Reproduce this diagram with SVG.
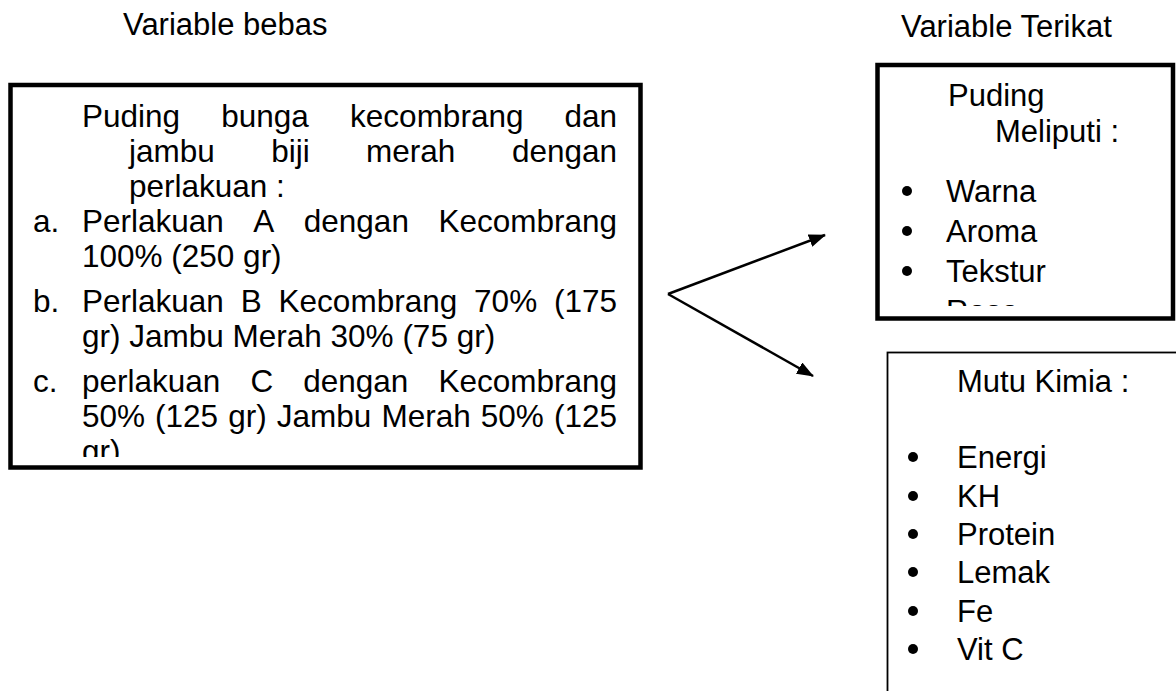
<svg xmlns="http://www.w3.org/2000/svg" width="1176" height="691" viewBox="0 0 1176 691">
<style>
text{font-family:"Liberation Sans",Arial,sans-serif;fill:#000;}
.h{font-size:31px;}
.t{font-size:31.5px;}
.r{font-size:31px;}
.thick{fill:#fff;stroke:#000;stroke-width:4.5;}
.thin{fill:#fff;stroke:#000;stroke-width:1.8;}
.conn{stroke:#000;stroke-width:2.5;fill:none;}
</style>
<defs>
<marker id="ah" viewBox="0 0 17 13" refX="16" refY="6.5" markerWidth="17" markerHeight="13" markerUnits="userSpaceOnUse" orient="auto">
<path d="M0,0 L17,6.5 L0,13 z" fill="#000"/>
</marker>
<clipPath id="clipL"><rect x="13" y="88" width="624" height="369"/></clipPath>
<clipPath id="clipT"><rect x="880" y="68" width="290" height="238"/></clipPath>
</defs>
<rect width="1176" height="691" fill="#fff"/>
<g id="header-bebas"><text class="h" x="123" y="35">Variable bebas</text></g>
<g id="header-terikat"><text class="h" x="901" y="37">Variable Terikat</text></g>
<g id="node-bebas">
<rect class="thick" x="10.5" y="85" width="630" height="382.5"/>
<g clip-path="url(#clipL)">
<text class="t" y="127"><tspan x="82">Puding</tspan><tspan x="221.3">bunga</tspan><tspan x="350.1">kecombrang</tspan><tspan x="564.5">dan</tspan></text>
<text class="t" y="162"><tspan x="129">jambu</tspan><tspan x="271.2">biji</tspan><tspan x="366.1">merah</tspan><tspan x="511.9">dengan</tspan></text>
<text class="t" x="129" y="196.5">perlakuan :</text>
<text class="t" x="33" y="231.5">a.</text>
<text class="t" y="231.5"><tspan x="82">Perlakuan</tspan><tspan x="253.3">A</tspan><tspan x="303.8">dengan</tspan><tspan x="438.4">Kecombrang</tspan></text>
<text class="t" x="82" y="266.5">100% (250 gr)</text>
<text class="t" x="33" y="311.5">b.</text>
<text class="t" y="311.5"><tspan x="82">Perlakuan</tspan><tspan x="240.7">B</tspan><tspan x="278.6">Kecombrang</tspan><tspan x="474.1">70%</tspan><tspan x="554">(175</tspan></text>
<text class="t" x="82" y="346.5">gr) Jambu Merah 30% (75 gr)</text>
<text class="t" x="33" y="391.5">c.</text>
<text class="t" y="391.5"><tspan x="82">perlakuan</tspan><tspan x="250.4">C</tspan><tspan x="303.2">dengan</tspan><tspan x="438.4">Kecombrang</tspan></text>
<text class="t" y="426.5"><tspan x="82">50%</tspan><tspan x="155.1">(125</tspan><tspan x="228.2">gr)</tspan><tspan x="276.8">Jambu</tspan><tspan x="381.4">Merah</tspan><tspan x="480.8">50%</tspan><tspan x="554">(125</tspan></text>
<text class="t" x="82" y="461.5">gr)</text>
</g>
</g>
<g id="node-puding">
<rect class="thick" x="877.5" y="65" width="295.5" height="253.5"/>
<g clip-path="url(#clipT)">
<text class="r" x="948" y="106">Puding</text>
<text class="r" x="995" y="142">Meliputi :</text>
<circle cx="907" cy="191" r="5"/>
<text class="r" x="946" y="202">Warna</text>
<circle cx="907" cy="231" r="5"/>
<text class="r" x="946" y="242">Aroma</text>
<circle cx="907" cy="271" r="5"/>
<text class="r" x="946" y="282">Tekstur</text>
<circle cx="907" cy="311" r="5"/>
<text class="r" x="946" y="322">Rasa</text>
</g>
</g>
<g id="node-mutu">
<rect class="thin" x="887.5" y="352.5" width="300" height="360"/>
<text class="r" x="957" y="392">Mutu Kimia :</text>
<circle cx="913" cy="457" r="5"/>
<text class="r" x="957" y="468">Energi</text>
<circle cx="913" cy="496" r="5"/>
<text class="r" x="957" y="507">KH</text>
<circle cx="913" cy="534" r="5"/>
<text class="r" x="957" y="545">Protein</text>
<circle cx="913" cy="572" r="5"/>
<text class="r" x="957" y="583">Lemak</text>
<circle cx="913" cy="611" r="5"/>
<text class="r" x="957" y="622">Fe</text>
<circle cx="913" cy="649" r="5"/>
<text class="r" x="957" y="660">Vit C</text>
</g>
<g id="connectors">
<line class="conn" x1="668" y1="294" x2="825" y2="235" marker-end="url(#ah)"/>
<line class="conn" x1="668" y1="294" x2="813" y2="376" marker-end="url(#ah)"/>
</g>
</svg>
